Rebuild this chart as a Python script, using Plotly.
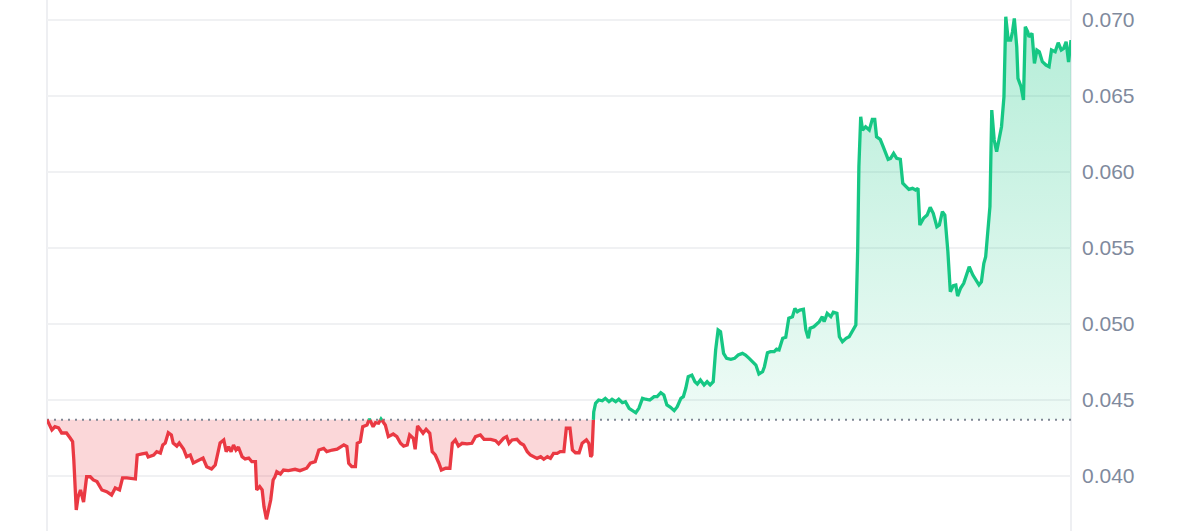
import numpy as np
import plotly.graph_objects as go

# time in hours over a 7-day window, price in USD
hours = [
    0.0, 0.8, 1.3, 1.9, 2.4, 3.2, 3.8, 4.2, 4.4, 4.8, 5.1, 5.5, 6.0, 6.5, 7.1, 7.6, 8.2, 9.0, 9.8, 10.6,
    11.2, 11.9, 12.4, 13.1, 14.5, 14.8, 15.6, 16.3, 16.6, 17.5, 18.0, 18.6, 19.0, 19.4, 19.9, 20.4, 20.7,
    21.3, 21.7, 22.4, 22.9, 23.5, 24.0, 24.8, 25.6, 26.2, 27.0, 27.6, 28.1, 28.4, 29.0, 29.4, 29.8, 30.2,
    30.6, 31.0, 31.4, 32.0, 32.5, 33.1, 33.6, 34.2, 34.4, 34.9, 35.3, 35.6, 36.0, 36.3, 36.7, 37.1, 37.4,
    37.7, 38.3, 38.8, 39.6, 40.7, 41.5, 42.6, 43.2, 44.0, 44.6, 45.4, 45.9, 46.8, 47.6, 48.7, 49.2, 49.5,
    50.0, 50.6, 50.9, 51.4, 51.8, 52.5, 52.9, 53.5, 53.9, 54.4, 54.8, 55.5, 56.0, 56.8, 57.4, 58.0, 58.5,
    59.1, 59.5, 60.1, 60.4, 60.8, 61.3, 61.7, 62.2, 62.8, 63.2, 63.7, 64.3, 64.7, 65.4, 66.1, 66.5, 67.0,
    67.5, 68.1, 68.9, 69.7, 70.3, 71.1, 71.7, 72.8, 73.6, 74.1, 74.9, 75.4, 75.8, 76.3, 77.1, 77.7, 78.2,
    78.8, 79.3, 79.9, 80.4, 81.0, 81.5, 82.1, 82.6, 83.1, 83.7, 84.2, 84.8, 85.2, 85.8, 86.2, 86.7, 87.3,
    87.8, 88.5, 88.9, 89.2, 89.4, 89.7, 90.0, 90.5, 91.1, 91.6, 92.2, 92.7, 93.3, 93.8, 94.4, 94.9, 95.5,
    96.0, 96.6, 97.1, 97.7, 98.2, 98.9, 99.6, 100.1, 100.7, 101.2, 101.7, 102.3, 102.9, 103.4, 104.0,
    104.4, 104.8, 105.2, 105.8, 106.3, 106.7, 107.2, 107.8, 108.3, 108.8, 109.3, 109.7, 110.1, 110.5,
    111.0, 111.5, 112.2, 112.8, 113.4, 114.1, 114.6, 115.2, 115.7, 116.3, 116.8, 117.4, 117.7, 118.2,
    118.7, 119.3, 119.7, 120.1, 120.7, 121.2, 121.7, 122.3, 122.7, 123.1, 123.5, 124.1, 124.5, 124.9,
    125.2, 125.8, 126.7, 127.2, 127.5, 128.0, 128.6, 129.0, 129.6, 130.0, 130.5, 131.1, 131.6, 132.1,
    132.7, 133.0, 133.2, 133.5, 133.8, 134.3, 134.9, 135.4, 135.8, 136.1, 136.7, 137.2, 137.6, 138.0,
    138.4, 138.9, 139.4, 140.0, 140.4, 140.9, 141.4, 142.0, 142.5, 142.9, 143.2, 143.8, 144.4, 144.9,
    145.4, 146.0, 146.4, 146.9, 147.3, 147.8, 148.2, 148.7, 149.1, 149.4, 149.9, 150.4, 150.9, 151.3,
    151.9, 152.4, 152.9, 153.3, 153.7, 154.0, 154.3, 154.7, 155.0, 155.4, 155.8, 156.2, 156.6, 157.0,
    157.2, 157.3, 157.7, 158.1, 158.4, 158.7, 159.1, 159.3, 159.8, 160.2, 160.5, 160.9, 161.1, 161.6,
    162.0, 162.4, 162.8, 163.3, 163.9, 164.4, 164.8, 165.4, 165.9, 166.4, 166.8, 167.2, 167.6, 168.0,
]

price = [
    0.04370, 0.04303, 0.04324, 0.04316, 0.04283, 0.04283, 0.04250, 0.04226, 0.04105, 0.03776, 0.03862,
    0.03908, 0.03829, 0.03995, 0.03995, 0.03974, 0.03963, 0.03908, 0.03897, 0.03875, 0.03921, 0.03908,
    0.03987, 0.03987, 0.03980, 0.04138, 0.04145, 0.04151, 0.04125, 0.04138, 0.04160, 0.04151, 0.04204,
    0.04217, 0.04285, 0.04270, 0.04217, 0.04197, 0.04217, 0.04178, 0.04127, 0.04138, 0.04086, 0.04105,
    0.04118, 0.04061, 0.04046, 0.04072, 0.04151, 0.04217, 0.04237, 0.04160, 0.04193, 0.04160, 0.04204,
    0.04171, 0.04191, 0.04127, 0.04112, 0.04118, 0.04094, 0.04094, 0.03908, 0.03930, 0.03908, 0.03798,
    0.03715, 0.03765, 0.03842, 0.03974, 0.03995, 0.04028, 0.04013, 0.04039, 0.04035, 0.04044, 0.04035,
    0.04051, 0.04084, 0.04094, 0.04171, 0.04182, 0.04160, 0.04171, 0.04176, 0.04204, 0.04193, 0.04084,
    0.04061, 0.04061, 0.04215, 0.04226, 0.04324, 0.04336, 0.04375, 0.04324, 0.04351, 0.04347, 0.04375,
    0.04336, 0.04259, 0.04276, 0.04259, 0.04215, 0.04197, 0.04204, 0.04270, 0.04248, 0.04176, 0.04329,
    0.04303, 0.04281, 0.04307, 0.04281, 0.04160, 0.04138, 0.04084, 0.04039, 0.04051, 0.04051, 0.04215,
    0.04237, 0.04197, 0.04215, 0.04211, 0.04215, 0.04259, 0.04270, 0.04241, 0.04241, 0.04232, 0.04211,
    0.04248, 0.04259, 0.04215, 0.04237, 0.04241, 0.04215, 0.04204, 0.04160, 0.04138, 0.04127, 0.04116,
    0.04127, 0.04110, 0.04127, 0.04116, 0.04149, 0.04149, 0.04160, 0.04160, 0.04314, 0.04314, 0.04171,
    0.04153, 0.04153, 0.04215, 0.04237, 0.04215, 0.04127, 0.04138, 0.04421, 0.04478, 0.04500, 0.04495,
    0.04511, 0.04489, 0.04505, 0.04489, 0.04505, 0.04482, 0.04489, 0.04445, 0.04434, 0.04416, 0.04445,
    0.04511, 0.04505, 0.04500, 0.04522, 0.04522, 0.04548, 0.04533, 0.04467, 0.04452, 0.04430, 0.04456,
    0.04511, 0.04522, 0.04577, 0.04653, 0.04664, 0.04620, 0.04605, 0.04632, 0.04599, 0.04620, 0.04599,
    0.04620, 0.04829, 0.04961, 0.04949, 0.04807, 0.04774, 0.04768, 0.04774, 0.04796, 0.04807, 0.04796,
    0.04774, 0.04752, 0.04730, 0.04671, 0.04686, 0.04719, 0.04811, 0.04818, 0.04818, 0.04834, 0.04829,
    0.04906, 0.04913, 0.05038, 0.05048, 0.05103, 0.05081, 0.05092, 0.05097, 0.04961, 0.04906, 0.04972,
    0.04982, 0.05015, 0.05048, 0.05015, 0.05070, 0.05048, 0.05077, 0.05070, 0.04916, 0.04884, 0.04906,
    0.04916, 0.04949, 0.04993, 0.05487, 0.06035, 0.06364, 0.06276, 0.06298, 0.06276, 0.06347, 0.06347,
    0.06232, 0.06215, 0.06166, 0.06123, 0.06084, 0.06090, 0.06123, 0.06090, 0.06084, 0.05926, 0.05903,
    0.05886, 0.05893, 0.05882, 0.05893, 0.05651, 0.05695, 0.05717, 0.05768, 0.05728, 0.05640, 0.05651,
    0.05739, 0.05717, 0.05476, 0.05213, 0.05253, 0.05257, 0.05184, 0.05237, 0.05268, 0.05334, 0.05377,
    0.05322, 0.05289, 0.05257, 0.05278, 0.05399, 0.05443, 0.05597, 0.05772, 0.06408, 0.06211, 0.06134,
    0.06222, 0.06298, 0.06495, 0.06803, 0.07022, 0.06868, 0.06868, 0.06923, 0.07011, 0.06824, 0.06616,
    0.06561, 0.06474, 0.06956, 0.06923, 0.06890, 0.06912, 0.06715, 0.06803, 0.06792, 0.06726, 0.06704,
    0.06693, 0.06803, 0.06792, 0.06851, 0.06803, 0.06814, 0.06857, 0.06724, 0.06868,
]

baseline = price[0]
tick_values = [0.040, 0.045, 0.050, 0.055, 0.060, 0.065, 0.070]
tick_labels = ["0.040", "0.045", "0.050", "0.055", "0.060", "0.065", "0.070"]

GREEN = "#16c784"
RED = "#ea3943"

t = np.array(hours, dtype=float)
p = np.array(price, dtype=float)

# insert crossing points with the baseline so the colours split cleanly
tt, pp = [t[0]], [p[0]]
for i in range(1, len(t)):
    a, b = p[i - 1] - baseline, p[i] - baseline
    if a * b < 0:
        f = a / (a - b)
        tt.append(t[i - 1] + f * (t[i] - t[i - 1]))
        pp.append(baseline)
    tt.append(t[i])
    pp.append(p[i])
tt = np.array(tt)
pp = np.array(pp)

up_line = np.where(pp >= baseline, pp, np.nan)
dn_line = np.where(pp <= baseline, pp, np.nan)
up_fill = np.maximum(pp, baseline)
dn_fill = np.minimum(pp, baseline)
base_arr = np.full_like(pp, baseline)

fig = go.Figure()

# green area
fig.add_trace(go.Scatter(x=tt, y=base_arr, mode="lines", line=dict(width=0), hoverinfo="skip", showlegend=False))
fig.add_trace(go.Scatter(
    x=tt, y=up_fill, mode="lines", line=dict(width=0), fill="tonexty",
    fillgradient=dict(type="vertical", start=baseline, stop=float(p.max()),
                      colorscale=[[0, "rgba(22,199,132,0.07)"], [1, "rgba(22,199,132,0.32)"]]),
    hoverinfo="skip", showlegend=False))
# red area
fig.add_trace(go.Scatter(x=tt, y=base_arr, mode="lines", line=dict(width=0), hoverinfo="skip", showlegend=False))
fig.add_trace(go.Scatter(
    x=tt, y=dn_fill, mode="lines", line=dict(width=0), fill="tonexty",
    fillcolor="rgba(234,57,67,0.2)", hoverinfo="skip", showlegend=False))

# dotted baseline
fig.add_trace(go.Scatter(
    x=[t[0], t[-1]], y=[baseline, baseline], mode="lines",
    line=dict(color="#7f8794", width=2, dash="2px,5px"), hoverinfo="skip", showlegend=False))

# lines
fig.add_trace(go.Scatter(x=tt, y=dn_line, mode="lines", line=dict(color=RED, width=3.3),
                         connectgaps=False, showlegend=False))
fig.add_trace(go.Scatter(x=tt, y=up_line, mode="lines", line=dict(color=GREEN, width=3.3),
                         connectgaps=False, showlegend=False))

fig.update_layout(
    width=1200, height=531,
    margin=dict(l=47, r=129, t=0, b=0),
    paper_bgcolor="white", plot_bgcolor="white",
    font=dict(family="Liberation Sans, Arial, sans-serif", color="#808a9d"),
    xaxis=dict(visible=False, range=[t[0], t[-1]]),
    yaxis=dict(
        side="right", range=[0.03638, 0.07132],
        tickvals=tick_values, ticktext=tick_labels,
        showgrid=True, gridcolor="#f0f1f3", gridwidth=1.6,
        zeroline=False, showline=False, ticks="",
        tickfont=dict(size=21, color="#808a9d"),
        ticklabelstandoff=10,
    ),
    shapes=[
        dict(type="line", xref="paper", yref="paper", x0=0, x1=0, y0=0, y1=1,
             line=dict(color="#eeeff2", width=2), layer="below"),
        dict(type="line", xref="paper", yref="paper", x0=1, x1=1, y0=0, y1=1,
             line=dict(color="#eeeff2", width=2), layer="below"),
    ],
)

fig.write_html(
    "out.html",
    config={"displayModeBar": False},
    post_script="document.body.style.margin='0';document.body.style.overflow='hidden';",
)
